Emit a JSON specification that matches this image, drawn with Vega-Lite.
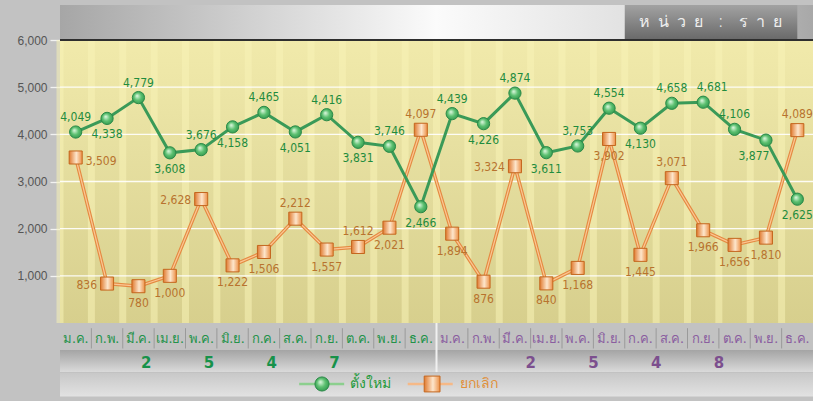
{
  "$schema": "https://vega.github.io/schema/vega-lite/v6.json",
  "width": 753,
  "height": 283,
  "autosize": {"type": "none"},
  "padding": {"left": 60, "top": 40, "right": 0, "bottom": 78},
  "background": "#c2c2c2",
  "config": {
    "font": "DejaVu Sans Condensed",
    "view": {"stroke": null},
    "axisY": {"labelExpr": "format(datum.value, ',')", "grid": false, "domain": false, "tickSize": 10, "tickColor": "#f2f2f2", "tickWidth": 1.3, "labelPadding": 3, "labelColor": "#555555", "labelFontSize": 12, "labelFont": "Liberation Sans", "title": null},
    "axisX": {"labelAngle": 0, "ticks": false, "domain": false, "labelPadding": 9, "labelFontSize": 13, "labelFont": "Noto Sans", "labelOverlap": false, "labelBound": false, "title": null}
  },
  "datasets": {
    "main": [
      {"idx": 1, "series": "ตั้งใหม่", "value": 4049}, {"idx": 2, "series": "ตั้งใหม่", "value": 4338},
      {"idx": 3, "series": "ตั้งใหม่", "value": 4779}, {"idx": 4, "series": "ตั้งใหม่", "value": 3608},
      {"idx": 5, "series": "ตั้งใหม่", "value": 3676}, {"idx": 6, "series": "ตั้งใหม่", "value": 4158},
      {"idx": 7, "series": "ตั้งใหม่", "value": 4465}, {"idx": 8, "series": "ตั้งใหม่", "value": 4051},
      {"idx": 9, "series": "ตั้งใหม่", "value": 4416}, {"idx": 10, "series": "ตั้งใหม่", "value": 3831},
      {"idx": 11, "series": "ตั้งใหม่", "value": 3746}, {"idx": 12, "series": "ตั้งใหม่", "value": 2466},
      {"idx": 13, "series": "ตั้งใหม่", "value": 4439}, {"idx": 14, "series": "ตั้งใหม่", "value": 4226},
      {"idx": 15, "series": "ตั้งใหม่", "value": 4874}, {"idx": 16, "series": "ตั้งใหม่", "value": 3611},
      {"idx": 17, "series": "ตั้งใหม่", "value": 3753}, {"idx": 18, "series": "ตั้งใหม่", "value": 4554},
      {"idx": 19, "series": "ตั้งใหม่", "value": 4130}, {"idx": 20, "series": "ตั้งใหม่", "value": 4658},
      {"idx": 21, "series": "ตั้งใหม่", "value": 4681}, {"idx": 22, "series": "ตั้งใหม่", "value": 4106},
      {"idx": 23, "series": "ตั้งใหม่", "value": 3877}, {"idx": 24, "series": "ตั้งใหม่", "value": 2625},
      {"idx": 1, "series": "ยกเลิก", "value": 3509}, {"idx": 2, "series": "ยกเลิก", "value": 836},
      {"idx": 3, "series": "ยกเลิก", "value": 780}, {"idx": 4, "series": "ยกเลิก", "value": 1000},
      {"idx": 5, "series": "ยกเลิก", "value": 2628}, {"idx": 6, "series": "ยกเลิก", "value": 1222},
      {"idx": 7, "series": "ยกเลิก", "value": 1506}, {"idx": 8, "series": "ยกเลิก", "value": 2212},
      {"idx": 9, "series": "ยกเลิก", "value": 1557}, {"idx": 10, "series": "ยกเลิก", "value": 1612},
      {"idx": 11, "series": "ยกเลิก", "value": 2021}, {"idx": 12, "series": "ยกเลิก", "value": 4097},
      {"idx": 13, "series": "ยกเลิก", "value": 1894}, {"idx": 14, "series": "ยกเลิก", "value": 876},
      {"idx": 15, "series": "ยกเลิก", "value": 3324}, {"idx": 16, "series": "ยกเลิก", "value": 840},
      {"idx": 17, "series": "ยกเลิก", "value": 1168}, {"idx": 18, "series": "ยกเลิก", "value": 3902},
      {"idx": 19, "series": "ยกเลิก", "value": 1445}, {"idx": 20, "series": "ยกเลิก", "value": 3071},
      {"idx": 21, "series": "ยกเลิก", "value": 1966}, {"idx": 22, "series": "ยกเลิก", "value": 1656},
      {"idx": 23, "series": "ยกเลิก", "value": 1810}, {"idx": 24, "series": "ยกเลิก", "value": 4089}
    ],
    "years": [
      {"idx": 3, "digit": "2", "year": 2547}, {"idx": 5, "digit": "5", "year": 2547},
      {"idx": 7, "digit": "4", "year": 2547}, {"idx": 9, "digit": "7", "year": 2547},
      {"idx": 16, "digit": "2", "year": 2548}, {"idx": 18, "digit": "5", "year": 2548},
      {"idx": 20, "digit": "4", "year": 2548}, {"idx": 22, "digit": "8", "year": 2548}
    ],
    "grid": [{"v": 1000}, {"v": 2000}, {"v": 3000}, {"v": 4000}, {"v": 5000}],
    "legend": [
      {"series": "ตั้งใหม่", "idx": 9, "labelIdx": 10},
      {"series": "ยกเลิก", "idx": 12, "labelIdx": 13}
    ],
    "one": [{"k": 1}]
  },
  "layer": [
    {
      "data": {"name": "one"},
      "mark": {"type": "rect", "color": {"gradient": "linear", "x1": 0, "y1": 1, "x2": 0, "y2": 0, "stops": [{"offset": 0, "color": "#d7cf8d"}, {"offset": 0.6, "color": "#e6dfa0"}, {"offset": 1, "color": "#f1eaab"}]}},
      "encoding": {
        "y": {"datum": 0, "type": "quantitative", "scale": {"domain": [0, 6000], "nice": false}, "axis": {"values": [1000, 2000, 3000, 4000, 5000, 6000]}},
        "y2": {"datum": 6000}
      }
    },
    {
      "data": {"name": "main"},
      "transform": [{"filter": "datum.series === 'ตั้งใหม่'"}],
      "mark": {"type": "rule", "strokeWidth": 7, "color": "#f8f3b6", "opacity": 0.55},
      "encoding": {
        "x": {"field": "idx", "type": "ordinal", "bandPosition": 0,
          "axis": {"labelExpr": "['ม.ค.','ก.พ.','มี.ค.','เม.ย.','พ.ค.','มิ.ย.','ก.ค.','ส.ค.','ก.ย.','ต.ค.','พ.ย.','ธ.ค.'][(datum.value-1)%12]",
            "labelColor": {"condition": {"test": "datum.value <= 12", "value": "#23924a"}, "value": "#8a5ea0"}},
          "scale": {"paddingInner": 0, "paddingOuter": 0}},
        "y": {"datum": 0, "type": "quantitative", "scale": {"domain": [0, 6000], "nice": false}},
        "y2": {"datum": 6000}
      }
    },
    {
      "data": {"name": "grid"},
      "mark": {"type": "rule", "color": "#ffffff", "strokeWidth": 1.3, "opacity": 0.9},
      "encoding": {"y": {"field": "v", "type": "quantitative", "scale": {"domain": [0, 6000], "nice": false}}}
    },
    {
      "data": {"name": "one"},
      "mark": {"type": "rect", "color": {"gradient": "linear", "x1": 0, "y1": 0, "x2": 1, "y2": 0, "stops": [{"offset": 0, "color": "#a6a6a6"}, {"offset": 0.5, "color": "#fbfbfb"}, {"offset": 0.75, "color": "#e2e2e2"}, {"offset": 1, "color": "#a8a8a8"}]}},
      "encoding": {
        "y": {"datum": 6000, "type": "quantitative", "scale": {"domain": [0, 6000], "nice": false}},
        "y2": {"datum": 6742}
      }
    },
    {
      "data": {"name": "one"},
      "mark": {"type": "rule", "color": "#2e2e2e", "strokeWidth": 2},
      "encoding": {"y": {"datum": 6000, "type": "quantitative", "scale": {"domain": [0, 6000], "nice": false}}}
    },
    {
      "data": {"name": "one"},
      "mark": {"type": "rect", "color": {"gradient": "linear", "x1": 0, "y1": 0, "x2": 0, "y2": 1, "stops": [{"offset": 0, "color": "#a2a2a2"}, {"offset": 1, "color": "#6a6a6a"}]}},
      "encoding": {
        "x": {"datum": 19, "type": "ordinal", "bandPosition": 0},
        "x2": {"datum": 24},
        "y": {"datum": 6020, "type": "quantitative", "scale": {"domain": [0, 6000], "nice": false}},
        "y2": {"datum": 6742}
      }
    },
    {
      "data": {"name": "one"},
      "mark": {"type": "text", "text": "ห\u2002น่\u2002ว\u2002ย\u2003:\u2003ร\u2002า\u2002ย", "color": "#eeeeee", "fontSize": 16, "font": "Noto Sans", "fontWeight": 300, "baseline": "middle"},
      "encoding": {
        "x": {"datum": 21, "type": "ordinal", "bandPosition": 0.72},
        "y": {"datum": 6382, "type": "quantitative", "scale": {"domain": [0, 6000], "nice": false}}
      }
    },
    {
      "data": {"name": "one"},
      "mark": {"type": "rect", "color": {"gradient": "linear", "x1": 0, "y1": 0, "x2": 0, "y2": 1, "stops": [{"offset": 0, "color": "#a4a4a4"}, {"offset": 1, "color": "#dadada"}]}},
      "encoding": {
        "y": {"datum": -572, "type": "quantitative", "scale": {"domain": [0, 6000], "nice": false}},
        "y2": {"datum": -1040}
      }
    },
    {
      "data": {"name": "one"},
      "mark": {"type": "rect", "color": {"gradient": "linear", "x1": 0, "y1": 0, "x2": 0, "y2": 1, "stops": [{"offset": 0, "color": "#c8c8c8"}, {"offset": 1, "color": "#e2e2e2"}]}},
      "encoding": {
        "y": {"datum": -1060, "type": "quantitative", "scale": {"domain": [0, 6000], "nice": false}},
        "y2": {"datum": -1560}
      }
    },
    {
      "data": {"name": "main"},
      "transform": [{"filter": "datum.series === 'ตั้งใหม่' && datum.idx > 1 && datum.idx !== 13"}],
      "mark": {"type": "rule", "color": "#909090", "strokeWidth": 1, "opacity": 0.8},
      "encoding": {
        "x": {"field": "idx", "type": "ordinal", "bandPosition": 0},
        "y": {"datum": -110, "type": "quantitative", "scale": {"domain": [0, 6000], "nice": false}},
        "y2": {"datum": -540}
      }
    },
    {
      "data": {"name": "one"},
      "mark": {"type": "rule", "color": "#f0f0f0", "strokeWidth": 2},
      "encoding": {
        "x": {"datum": 13, "type": "ordinal", "bandPosition": 0},
        "y": {"datum": 0, "type": "quantitative", "scale": {"domain": [0, 6000], "nice": false}},
        "y2": {"datum": -1040}
      }
    },
    {
      "data": {"name": "main"},
      "transform": [{"filter": "datum.series === 'ยกเลิก'"}],
      "mark": {"type": "line", "color": "#e58a42", "strokeWidth": 3.5},
      "encoding": {
        "x": {"field": "idx", "type": "ordinal"},
        "y": {"field": "value", "type": "quantitative", "scale": {"domain": [0, 6000], "nice": false}}
      }
    },
    {
      "data": {"name": "main"},
      "transform": [{"filter": "datum.series === 'ยกเลิก'"}],
      "mark": {"type": "line", "color": "#fbc793", "strokeWidth": 1.2},
      "encoding": {
        "x": {"field": "idx", "type": "ordinal"},
        "y": {"field": "value", "type": "quantitative", "scale": {"domain": [0, 6000], "nice": false}}
      }
    },
    {
      "data": {"name": "main"},
      "transform": [{"filter": "datum.series === 'ตั้งใหม่'"}],
      "mark": {"type": "line", "color": "#3a9a58", "strokeWidth": 3},
      "encoding": {
        "x": {"field": "idx", "type": "ordinal"},
        "y": {"field": "value", "type": "quantitative", "scale": {"domain": [0, 6000], "nice": false}}
      }
    },
    {
      "data": {"name": "main"},
      "transform": [{"filter": "datum.series === 'ยกเลิก'"}],
      "mark": {"type": "point", "shape": "square", "filled": true, "opacity": 1, "size": 170, "stroke": "#c4661e", "strokeWidth": 1,
        "fill": {"gradient": "linear", "x1": 0, "y1": 0, "x2": 1, "y2": 0, "stops": [{"offset": 0, "color": "#e07a30"}, {"offset": 0.55, "color": "#fde6cc"}, {"offset": 1, "color": "#ec8f45"}]}},
      "encoding": {
        "x": {"field": "idx", "type": "ordinal"},
        "y": {"field": "value", "type": "quantitative", "scale": {"domain": [0, 6000], "nice": false}}
      }
    },
    {
      "data": {"name": "main"},
      "transform": [{"filter": "datum.series === 'ตั้งใหม่'"}],
      "mark": {"type": "point", "shape": "circle", "filled": true, "opacity": 1, "size": 150, "stroke": "#2a8a48", "strokeWidth": 1,
        "fill": {"gradient": "radial", "x1": 0.38, "y1": 0.35, "r1": 0, "x2": 0.5, "y2": 0.5, "r2": 0.6, "stops": [{"offset": 0, "color": "#e4fae4"}, {"offset": 0.5, "color": "#5cc070"}, {"offset": 1, "color": "#2a9048"}]}},
      "encoding": {
        "x": {"field": "idx", "type": "ordinal"},
        "y": {"field": "value", "type": "quantitative", "scale": {"domain": [0, 6000], "nice": false}}
      }
    },
    {
      "data": {"name": "main"},
      "transform": [{"filter": "datum.series === 'ตั้งใหม่' && indexof([1,3,5,7,9,11,13,15,17,18,20,22], datum.idx) >= 0"}],
      "mark": {"type": "text", "dy": -15, "fontSize": 12, "color": "#1f8c3e", "baseline": "middle"},
      "encoding": {
        "x": {"field": "idx", "type": "ordinal"},
        "y": {"field": "value", "type": "quantitative", "scale": {"domain": [0, 6000], "nice": false}},
        "text": {"field": "value", "type": "quantitative", "format": ","}
      }
    },
    {
      "data": {"name": "main"},
      "transform": [{"filter": "datum.series === 'ตั้งใหม่' && datum.idx === 21"}],
      "mark": {"type": "text", "dy": -15, "dx": 9, "fontSize": 12, "color": "#1f8c3e", "baseline": "middle"},
      "encoding": {
        "x": {"field": "idx", "type": "ordinal"},
        "y": {"field": "value", "type": "quantitative", "scale": {"domain": [0, 6000], "nice": false}},
        "text": {"field": "value", "type": "quantitative", "format": ","}
      }
    },
    {
      "data": {"name": "main"},
      "transform": [{"filter": "datum.series === 'ตั้งใหม่' && indexof([2,4,6,8,10,12,14,16,19,24], datum.idx) >= 0"}],
      "mark": {"type": "text", "dy": 16, "fontSize": 12, "color": "#1f8c3e", "baseline": "middle"},
      "encoding": {
        "x": {"field": "idx", "type": "ordinal"},
        "y": {"field": "value", "type": "quantitative", "scale": {"domain": [0, 6000], "nice": false}},
        "text": {"field": "value", "type": "quantitative", "format": ","}
      }
    },
    {
      "data": {"name": "main"},
      "transform": [{"filter": "datum.series === 'ตั้งใหม่' && datum.idx === 23"}],
      "mark": {"type": "text", "dy": 16, "dx": -12, "fontSize": 12, "color": "#1f8c3e", "baseline": "middle"},
      "encoding": {
        "x": {"field": "idx", "type": "ordinal"},
        "y": {"field": "value", "type": "quantitative", "scale": {"domain": [0, 6000], "nice": false}},
        "text": {"field": "value", "type": "quantitative", "format": ","}
      }
    },
    {
      "data": {"name": "main"},
      "transform": [{"filter": "datum.series === 'ยกเลิก' && indexof([8,10,12,20,24], datum.idx) >= 0"}],
      "mark": {"type": "text", "dy": -16, "fontSize": 12, "color": "#b8732e", "baseline": "middle"},
      "encoding": {
        "x": {"field": "idx", "type": "ordinal"},
        "y": {"field": "value", "type": "quantitative", "scale": {"domain": [0, 6000], "nice": false}},
        "text": {"field": "value", "type": "quantitative", "format": ","}
      }
    },
    {
      "data": {"name": "main"},
      "transform": [{"filter": "datum.series === 'ยกเลิก' && indexof([3,4,6,7,9,11,13,14,16,17,18,19,21,22,23], datum.idx) >= 0"}],
      "mark": {"type": "text", "dy": 17, "fontSize": 12, "color": "#b8732e", "baseline": "middle"},
      "encoding": {
        "x": {"field": "idx", "type": "ordinal"},
        "y": {"field": "value", "type": "quantitative", "scale": {"domain": [0, 6000], "nice": false}},
        "text": {"field": "value", "type": "quantitative", "format": ","}
      }
    },
    {
      "data": {"name": "main"},
      "transform": [{"filter": "datum.series === 'ยกเลิก' && indexof([2,5,15], datum.idx) >= 0"}],
      "mark": {"type": "text", "dx": -10, "dy": 1, "align": "right", "fontSize": 12, "color": "#b8732e", "baseline": "middle"},
      "encoding": {
        "x": {"field": "idx", "type": "ordinal"},
        "y": {"field": "value", "type": "quantitative", "scale": {"domain": [0, 6000], "nice": false}},
        "text": {"field": "value", "type": "quantitative", "format": ","}
      }
    },
    {
      "data": {"name": "main"},
      "transform": [{"filter": "datum.series === 'ยกเลิก' && datum.idx === 1"}],
      "mark": {"type": "text", "dx": 10, "dy": 4, "align": "left", "fontSize": 12, "color": "#b8732e", "baseline": "middle"},
      "encoding": {
        "x": {"field": "idx", "type": "ordinal"},
        "y": {"field": "value", "type": "quantitative", "scale": {"domain": [0, 6000], "nice": false}},
        "text": {"field": "value", "type": "quantitative", "format": ","}
      }
    },
    {
      "data": {"name": "years"},
      "transform": [{"filter": "datum.year === 2547"}],
      "mark": {"type": "text", "fontSize": 15, "fontWeight": "bold", "font": "DejaVu Sans", "color": "#17924a", "baseline": "middle"},
      "encoding": {
        "x": {"field": "idx", "type": "ordinal", "bandPosition": 0.75},
        "y": {"datum": -850, "type": "quantitative", "scale": {"domain": [0, 6000], "nice": false}},
        "text": {"field": "digit"}
      }
    },
    {
      "data": {"name": "years"},
      "transform": [{"filter": "datum.year === 2548"}],
      "mark": {"type": "text", "fontSize": 15, "fontWeight": "bold", "font": "DejaVu Sans", "color": "#7c4f8e", "baseline": "middle"},
      "encoding": {
        "x": {"field": "idx", "type": "ordinal", "bandPosition": 0},
        "y": {"datum": -850, "type": "quantitative", "scale": {"domain": [0, 6000], "nice": false}},
        "text": {"field": "digit"}
      }
    },
    {
      "data": {"name": "legend"},
      "transform": [{"filter": "datum.series === 'ตั้งใหม่'"}],
      "mark": {"type": "point", "shape": "stroke", "size": 2025, "strokeWidth": 2.5, "opacity": 1, "stroke": "#8ccf8e"},
      "encoding": {
        "x": {"field": "idx", "type": "ordinal", "bandPosition": 0.34},
        "y": {"datum": -1293, "type": "quantitative", "scale": {"domain": [0, 6000], "nice": false}}
      }
    },
    {
      "data": {"name": "legend"},
      "transform": [{"filter": "datum.series === 'ยกเลิก'"}],
      "mark": {"type": "point", "shape": "stroke", "size": 2025, "strokeWidth": 2.5, "opacity": 1, "stroke": "#f6b987"},
      "encoding": {
        "x": {"field": "idx", "type": "ordinal", "bandPosition": 0.8},
        "y": {"datum": -1293, "type": "quantitative", "scale": {"domain": [0, 6000], "nice": false}}
      }
    },
    {
      "data": {"name": "legend"},
      "transform": [{"filter": "datum.series === 'ตั้งใหม่'"}],
      "mark": {"type": "point", "shape": "circle", "filled": true, "opacity": 1, "size": 200, "stroke": "#2a8a48", "strokeWidth": 1,
        "fill": {"gradient": "radial", "x1": 0.38, "y1": 0.35, "r1": 0, "x2": 0.5, "y2": 0.5, "r2": 0.6, "stops": [{"offset": 0, "color": "#e4fae4"}, {"offset": 0.5, "color": "#5cc070"}, {"offset": 1, "color": "#2a9048"}]}},
      "encoding": {
        "x": {"field": "idx", "type": "ordinal", "bandPosition": 0.35},
        "y": {"datum": -1293, "type": "quantitative", "scale": {"domain": [0, 6000], "nice": false}}
      }
    },
    {
      "data": {"name": "legend"},
      "transform": [{"filter": "datum.series === 'ยกเลิก'"}],
      "mark": {"type": "point", "shape": "square", "filled": true, "opacity": 1, "size": 250, "stroke": "#c4661e", "strokeWidth": 1,
        "fill": {"gradient": "linear", "x1": 0, "y1": 0, "x2": 1, "y2": 0, "stops": [{"offset": 0, "color": "#e07a30"}, {"offset": 0.55, "color": "#fde6cc"}, {"offset": 1, "color": "#ec8f45"}]}},
      "encoding": {
        "x": {"field": "idx", "type": "ordinal", "bandPosition": 0.86},
        "y": {"datum": -1293, "type": "quantitative", "scale": {"domain": [0, 6000], "nice": false}}
      }
    },
    {
      "data": {"name": "legend"},
      "transform": [{"filter": "datum.series === 'ตั้งใหม่'"}],
      "mark": {"type": "text", "align": "left", "baseline": "middle", "fontSize": 14, "font": "Noto Sans", "color": "#1e9a3a"},
      "encoding": {
        "x": {"field": "labelIdx", "type": "ordinal", "bandPosition": 0.24},
        "y": {"datum": -1293, "type": "quantitative", "scale": {"domain": [0, 6000], "nice": false}},
        "text": {"field": "series"}
      }
    },
    {
      "data": {"name": "legend"},
      "transform": [{"filter": "datum.series === 'ยกเลิก'"}],
      "mark": {"type": "text", "align": "left", "baseline": "middle", "fontSize": 14, "font": "Noto Sans", "color": "#e0903c"},
      "encoding": {
        "x": {"field": "labelIdx", "type": "ordinal", "bandPosition": 0.75},
        "y": {"datum": -1293, "type": "quantitative", "scale": {"domain": [0, 6000], "nice": false}},
        "text": {"field": "series"}
      }
    }
  ]
}
